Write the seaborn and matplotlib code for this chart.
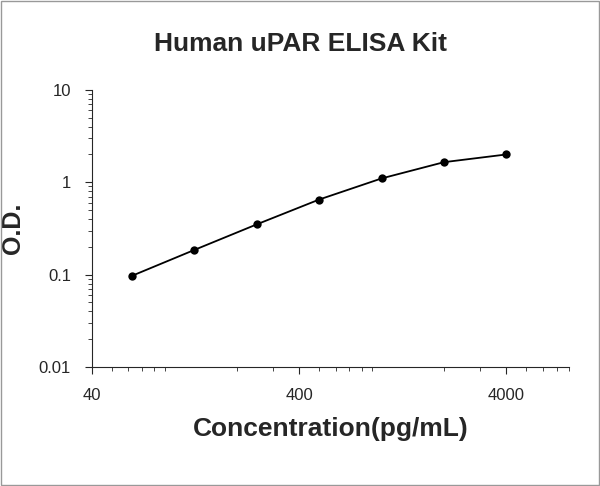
import matplotlib
matplotlib.use("Agg")
import matplotlib.pyplot as plt
import seaborn as sns
import pandas as pd
from matplotlib.ticker import FixedLocator, LogLocator, NullFormatter

concentration = [62.5, 125, 250, 500, 1000, 2000, 4000]
od = [0.097, 0.185, 0.35, 0.65, 1.1, 1.65, 2.0]
x_ticks = [40, 400, 4000]
y_ticks = [0.01, 0.1, 1, 10]
y_labels = ["0.01", "0.1", "1", "10"]

sns.set_style("ticks")
plt.rcParams["font.family"] = ["Liberation Sans", "DejaVu Sans"]

df = pd.DataFrame({"conc": concentration, "od": od})

fig = plt.figure(figsize=(6, 4.86), dpi=100)
ax = fig.add_axes([0.153, 0.245, 0.795, 0.57])
sns.lineplot(data=df, x="conc", y="od", ax=ax, color="black", linewidth=1.3,
             marker="o", markersize=6, markeredgewidth=0)
ax.set_xscale("log")
ax.set_yscale("log")
ax.set_xlim(40, 8000)
ax.set_ylim(0.01, 10)
ax.xaxis.set_major_locator(FixedLocator(x_ticks))
ax.set_xticklabels([str(t) for t in x_ticks])
ax.xaxis.set_minor_locator(LogLocator(base=10, subs=range(2, 10)))
ax.xaxis.set_minor_formatter(NullFormatter())
ax.yaxis.set_major_locator(FixedLocator(y_ticks))
ax.set_yticklabels(y_labels)
ax.yaxis.set_minor_locator(LogLocator(base=10, subs=range(2, 10)))
ax.yaxis.set_minor_formatter(NullFormatter())
ax.tick_params(axis="both", which="major", labelsize=12, direction="out", length=5, pad=10)
ax.tick_params(axis="both", which="minor", direction="out", length=3)
for s in ["top", "right"]:
    ax.spines[s].set_visible(False)
ax.set_xlabel("Concentration(pg/mL)", fontsize=19, fontweight="bold", labelpad=10)
ax.set_ylabel("O.D.", fontsize=18, fontweight="bold", labelpad=10)
fig.text(0.5, 0.895, "Human uPAR ELISA Kit", ha="center", fontsize=19, fontweight="bold")
border = plt.Rectangle((0.002, 0.002), 0.996, 0.996, transform=fig.transFigure,
                       fill=False, edgecolor="#999999", linewidth=1)
fig.patches.append(border)
fig.savefig("out.png", dpi=100)
